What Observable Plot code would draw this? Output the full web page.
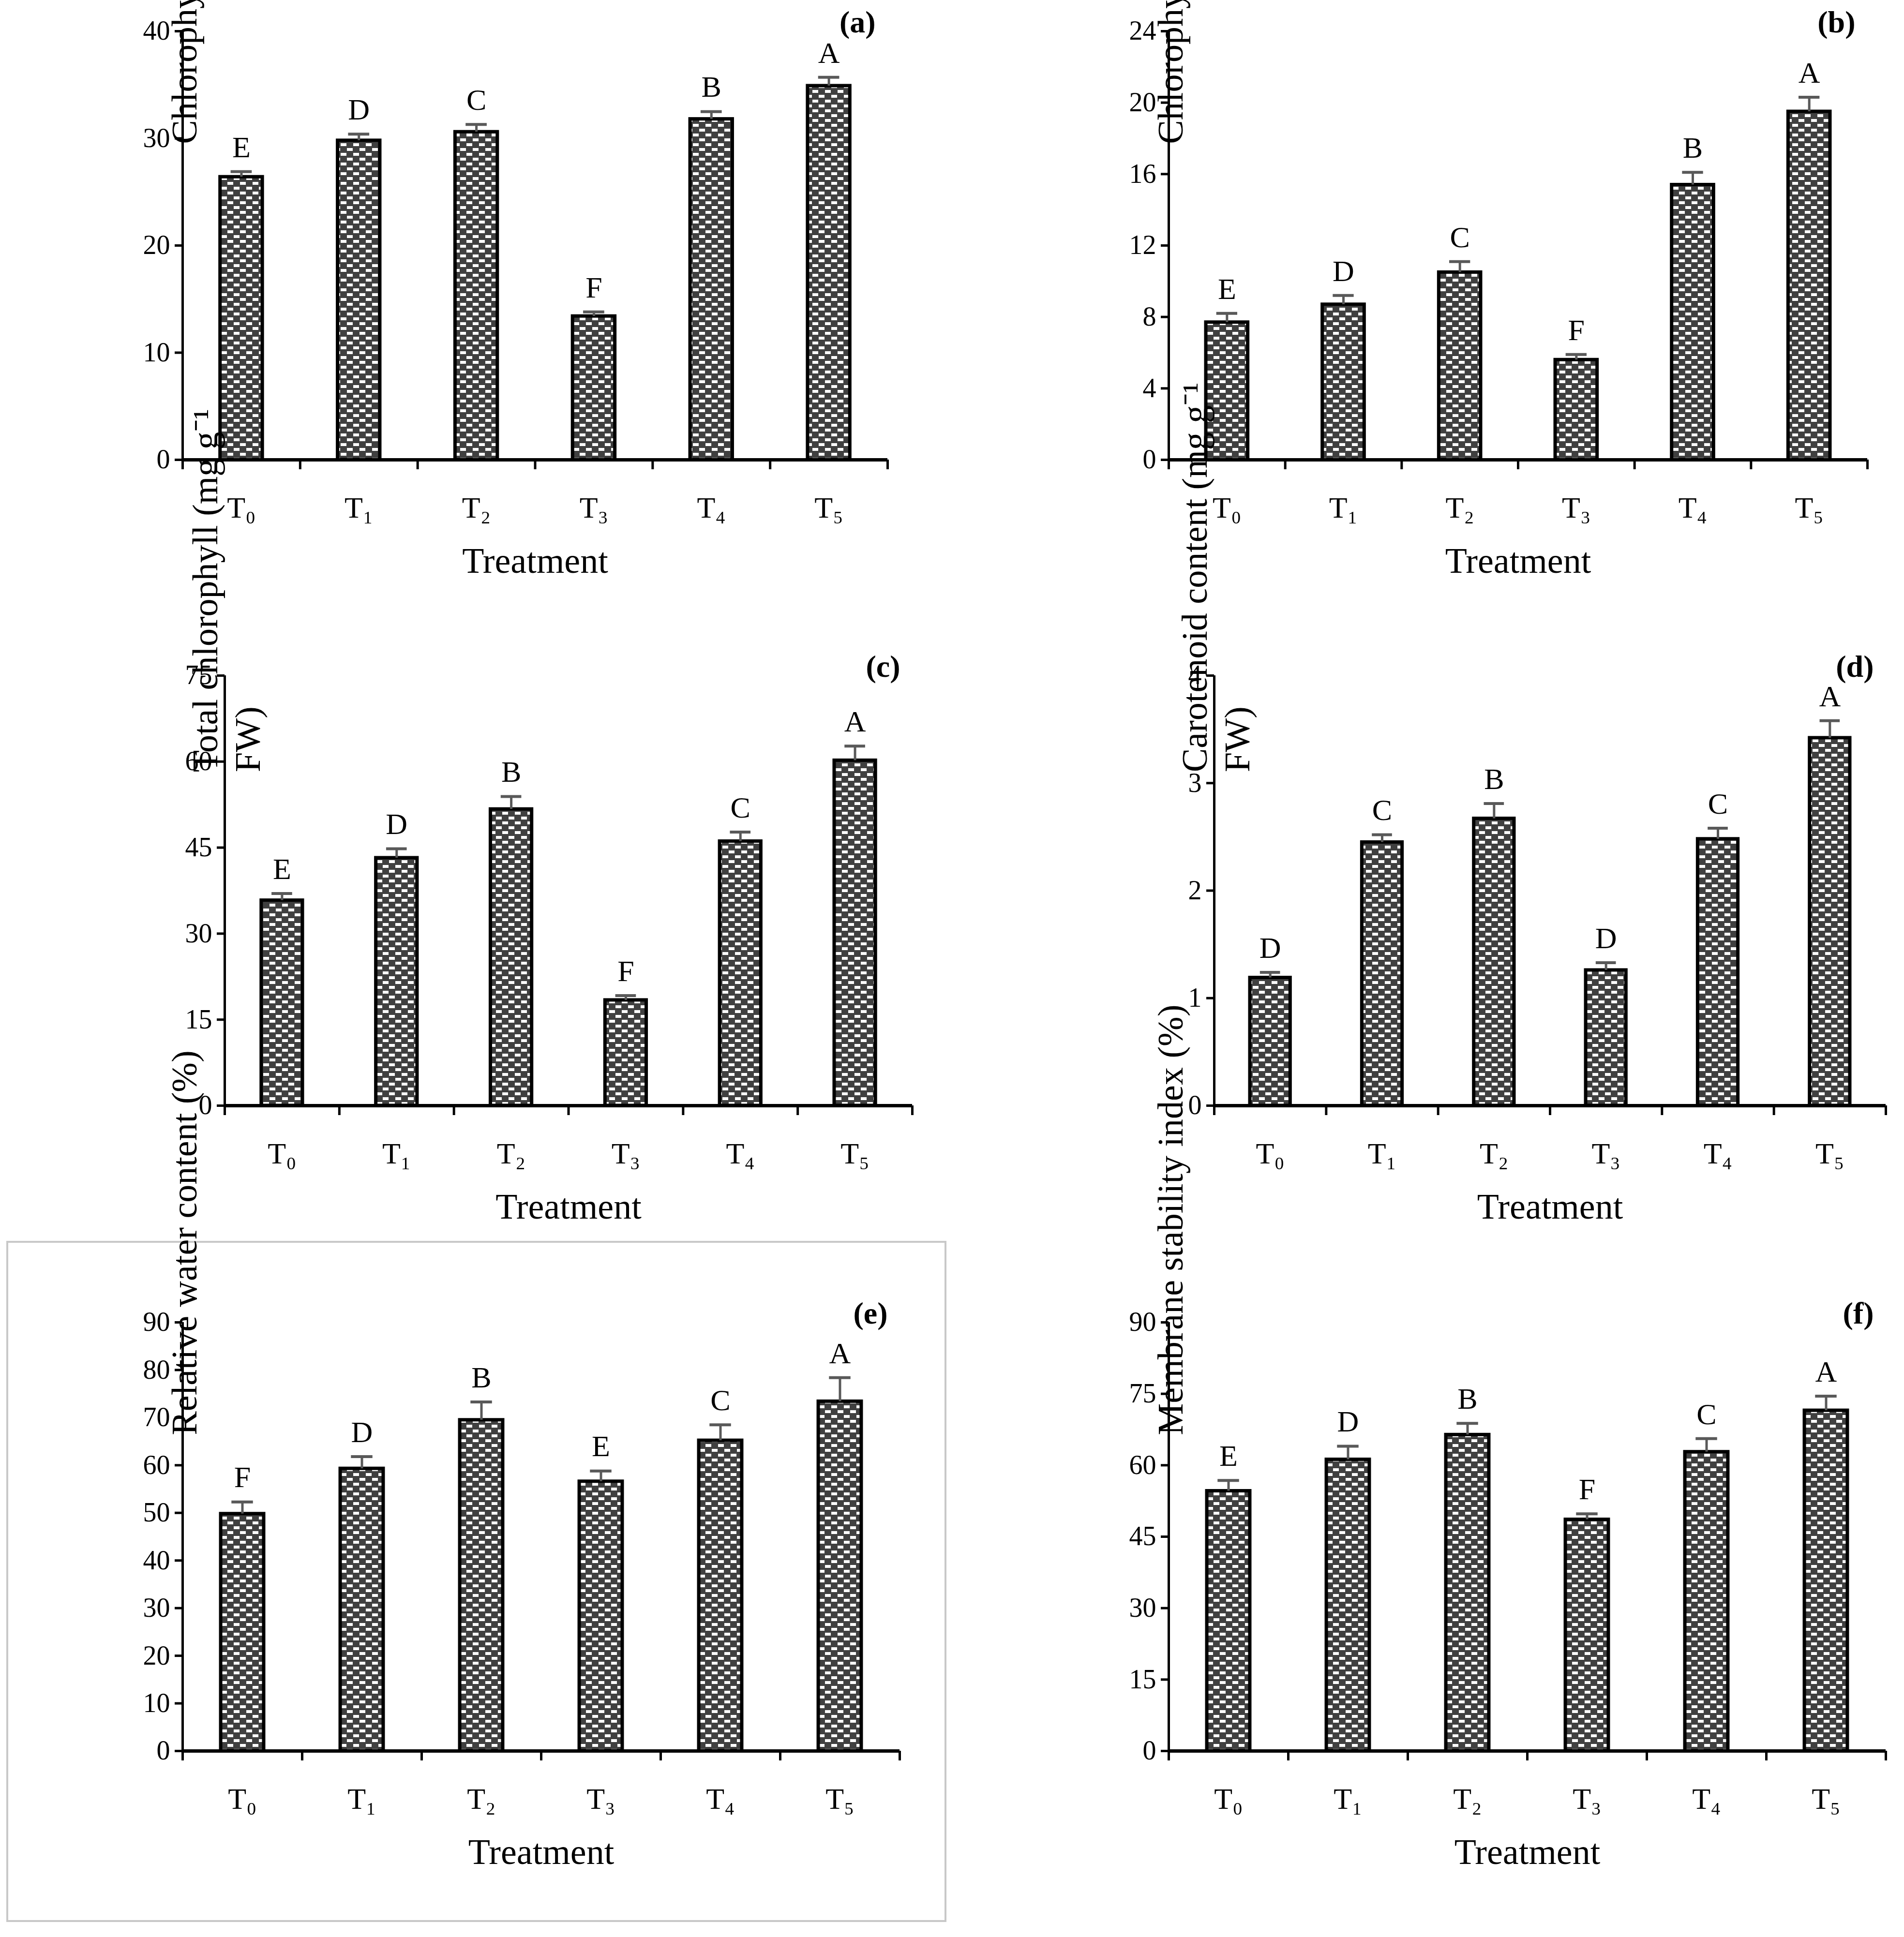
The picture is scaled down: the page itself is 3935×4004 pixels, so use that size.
<!DOCTYPE html>
<html><head><meta charset="utf-8">
<script src="https://cdn.jsdelivr.net/npm/d3@7"></script>
<script src="https://cdn.jsdelivr.net/npm/@observablehq/plot@0.6"></script>
<style>
body{margin:0;background:#fff;width:3935px;height:4004px;position:relative;overflow:hidden;font-family:"Liberation Serif",serif}
.p{position:absolute}
#box{position:absolute;left:13px;top:2565px;width:1943px;height:1408px;border:4px solid #c8c8c8;box-sizing:border-box}
</style></head><body>
<div id="box"></div>
<svg width="0" height="0" style="position:absolute"><defs>
<pattern id="pat" width="26" height="20" patternUnits="userSpaceOnUse">
<rect width="26" height="20" fill="#404040"/>
<rect x="3" y="2" width="12" height="6" fill="#fff"/>
<rect x="16" y="12" width="12" height="6" fill="#fff"/>
<rect x="-10" y="12" width="12" height="6" fill="#fff"/>
</pattern></defs></svg>
<script>
const treatments = ["T₀","T₁","T₂","T₃","T₄","T₅"];
const chlA = [26.4, 29.8, 30.6, 13.4, 31.8, 34.9];
const chlAErr = [0.5, 0.6, 0.7, 0.4, 0.7, 0.8];
const chlALet = ["E","D","C","F","B","A"];
const chlB = [7.7, 8.7, 10.5, 5.6, 15.4, 19.5];
const chlBErr = [0.5, 0.5, 0.6, 0.3, 0.7, 0.8];
const chlBLet = ["E","D","C","F","B","A"];
const totChl = [35.8, 43.2, 51.7, 18.4, 46.1, 60.2];
const totChlErr = [1.2, 1.6, 2.2, 0.8, 1.6, 2.5];
const totChlLet = ["E","D","B","F","C","A"];
const carot = [1.19, 2.45, 2.67, 1.26, 2.48, 3.42];
const carotErr = [0.05, 0.07, 0.14, 0.07, 0.1, 0.16];
const carotLet = ["D","C","B","D","C","A"];
const rwc = [49.8, 59.3, 69.5, 56.6, 65.2, 73.4];
const rwcErr = [2.5, 2.5, 3.8, 2.2, 3.3, 5.0];
const rwcLet = ["F","D","B","E","C","A"];
const msi = [54.6, 61.2, 66.4, 48.6, 62.8, 71.5];
const msiErr = [2.2, 2.8, 2.4, 1.2, 2.8, 3.0];
const msiLet = ["E","D","B","F","C","A"];

const panels = [
 {v:chlA,e:chlAErr,l:chlALet,tag:"(a)",title:"Chlorophyll a (mg g⁻¹ FW)",yd:[0,40],ticks:d3.range(0,41,10),L:377,T:64,B:950,R:1834,tdx:-210},
 {v:chlB,e:chlBErr,l:chlBLet,tag:"(b)",title:"Chlorophyll b (mg g⁻¹ FW)",yd:[0,24],ticks:d3.range(0,25,4),L:2415,T:64,B:950,R:3859,tdx:-210},
 {v:totChl,e:totChlErr,l:totChlLet,tag:"(c)",title:"Total chlorophyll (mg g⁻¹\nFW)",yd:[0,75],ticks:d3.range(0,76,15),L:464,T:1396,B:2285,R:1885,tdx:-245},
 {v:carot,e:carotErr,l:carotLet,tag:"(d)",title:"Carotenoid content (mg g⁻¹\nFW)",yd:[0,4],ticks:d3.range(0,5,1),L:2509,T:1396,B:2285,R:3897,tdx:-245},
 {v:rwc,e:rwcErr,l:rwcLet,tag:"(e)",title:"Relative water content (%)",yd:[0,90],ticks:d3.range(0,91,10),L:377,T:2733,B:3619,R:1859,tdx:-210},
 {v:msi,e:msiErr,l:msiLet,tag:"(f)",title:"Membrane stability index (%)",yd:[0,90],ticks:d3.range(0,91,15),L:2415,T:2733,B:3619,R:3897,tdx:-210}
];
const ml=300, mt=150, mb=300, mr=60;
for (const p of panels) {
  const data = treatments.map((t,i)=>({t,i,v:p.v[i],e:p.e[i],l:p.l[i]}));
  const ymax = p.yd[1];
  const plot = Plot.plot({
    width:(p.R-p.L)+ml+mr, height:(p.B-p.T)+mt+mb,
    marginLeft:ml, marginTop:mt, marginBottom:mb, marginRight:mr,
    style:{fontFamily:"Liberation Serif, serif", fontSize:"56px", color:"#000", background:"transparent", overflow:"visible"},
    x:{domain:[0,6], axis:null},
    y:{domain:p.yd, axis:null},
    marks:[
      Plot.rectY(data,{x1:d=>d.i+0.32,x2:d=>d.i+0.68,y:"v",fill:"url(#pat)",stroke:"#000",strokeWidth:7}),
      Plot.ruleX(data,{x:d=>d.i+0.5,y1:"v",y2:d=>d.v+d.e,stroke:"#595959",strokeWidth:5}),
      Plot.ruleY(data,{x1:d=>d.i+0.41,x2:d=>d.i+0.59,y:d=>d.v+d.e,stroke:"#595959",strokeWidth:6}),
      Plot.ruleX([0],{stroke:"#000",strokeWidth:5}),
      Plot.ruleY([0],{stroke:"#000",strokeWidth:7}),
      Plot.axisY({ticks:p.ticks,tickSize:16,tickPadding:10,strokeWidth:5,fontSize:56,label:null,tickFormat:d3.format("")}),
      Plot.axisX({ticks:d3.range(0,7),tickSize:20,strokeWidth:5,tickFormat:()=>"",label:null}),
      Plot.text(data,{x:d=>d.i+0.5,y:0,text:"t",dy:100,fontSize:62}),
      Plot.text(["Treatment"],{x:3,y:0,text:d=>d,dy:210,fontSize:74}),
      Plot.text(data,{x:d=>d.i+0.5,y:d=>d.v+d.e,text:"l",dy:-50,fontSize:62}),
      Plot.text([p.tag],{x:6,y:ymax,text:d=>d,dx:-25,dy:-18,fontSize:64,fontWeight:"bold",textAnchor:"end"}),
      Plot.text([p.title],{frameAnchor:"left",text:d=>d,rotate:-90,dy:p.tdx,fontSize:74,lineHeight:1.2})
    ]
  });
  plot.classList.add("p");
  plot.style.left=(p.L-ml)+"px";
  plot.style.top=(p.T-mt)+"px";
  document.body.appendChild(plot);
}
</script></body></html>
